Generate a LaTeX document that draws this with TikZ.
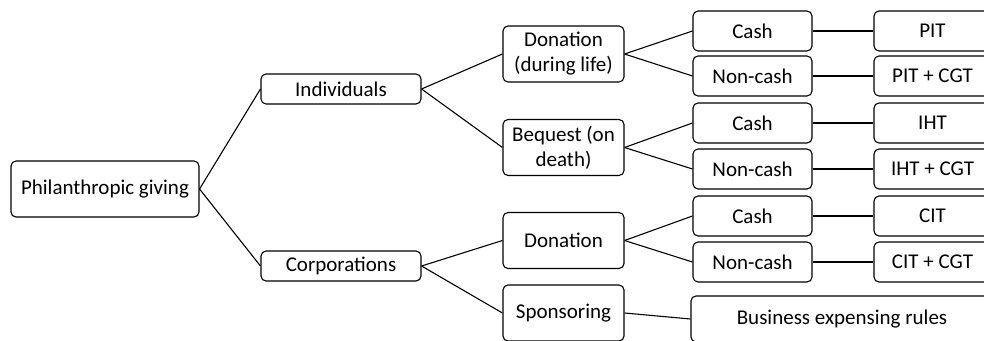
\documentclass[tikz,border=0pt]{standalone}
\usepackage{fontspec}
\setmainfont{Carlito}
\begin{document}
\begin{tikzpicture}[x=1pt,y=-1pt,
  box/.style={draw=black, line width=1.1pt, rounded corners=5pt, inner sep=0pt, align=center,
    font=\fontsize{21}{25}\selectfont, text=black},
  link/.style={draw=black, line width=1.1pt}]
\useasboundingbox (0,0) rectangle (984,340);
\clip (0,0) rectangle (984,340);
% level 0
\node[box, minimum width=188pt, minimum height=56pt] (phil) at (105,189) {Philanthropic giving};
% level 1
\node[box, minimum width=160pt, minimum height=30pt] (ind) at (341,89) {Individuals};
\node[box, minimum width=160pt, minimum height=30pt] (corp) at (341,266) {Corporations};
% level 2
\node[box, minimum width=121pt, minimum height=56pt] (don1) at (563.5,54) {Donation\\(during life)};
\node[box, minimum width=121pt, minimum height=56pt] (beq) at (563.5,147.5) {Bequest (on\\death)};
\node[box, minimum width=121pt, minimum height=56pt] (don2) at (563.5,240.5) {Donation};
\node[box, minimum width=121pt, minimum height=56pt] (spon) at (563.5,313) {Sponsoring};
% level 3
\node[box, minimum width=119pt, minimum height=40pt] (c1) at (752.5,31) {Cash};
\node[box, minimum width=119pt, minimum height=40pt] (n1) at (752.5,76) {Non-cash};
\node[box, minimum width=119pt, minimum height=40pt] (c2) at (752.5,123) {Cash};
\node[box, minimum width=119pt, minimum height=40pt] (n2) at (752.5,169) {Non-cash};
\node[box, minimum width=119pt, minimum height=40pt] (c3) at (752.5,216) {Cash};
\node[box, minimum width=119pt, minimum height=40pt] (n3) at (752.5,262) {Non-cash};
% level 4
\node[box, minimum width=117pt, minimum height=40pt] (t1) at (932.5,31) {PIT};
\node[box, minimum width=117pt, minimum height=40pt] (t2) at (932.5,76) {PIT + CGT};
\node[box, minimum width=117pt, minimum height=40pt] (t3) at (932.5,123) {IHT};
\node[box, minimum width=117pt, minimum height=40pt] (t4) at (932.5,169) {IHT + CGT};
\node[box, minimum width=117pt, minimum height=40pt] (t5) at (932.5,216) {CIT};
\node[box, minimum width=117pt, minimum height=40pt] (t6) at (932.5,262) {CIT + CGT};
\node[box, minimum width=302pt, minimum height=46pt] (ber) at (842,319) {Business expensing rules};
% connectors
\draw[link] (phil.east) -- (ind.west);
\draw[link] (phil.east) -- (corp.west);
\draw[link] (ind.east) -- (don1.west);
\draw[link] (ind.east) -- (beq.west);
\draw[link] (corp.east) -- (don2.west);
\draw[link] (corp.east) -- (spon.west);
\draw[link] (don1.east) -- (c1.west);
\draw[link] (don1.east) -- (n1.west);
\draw[link] (beq.east) -- (c2.west);
\draw[link] (beq.east) -- (n2.west);
\draw[link] (don2.east) -- (c3.west);
\draw[link] (don2.east) -- (n3.west);
\draw[link] (c1.east) -- (t1.west);
\draw[link] (n1.east) -- (t2.west);
\draw[link] (c2.east) -- (t3.west);
\draw[link] (n2.east) -- (t4.west);
\draw[link] (c3.east) -- (t5.west);
\draw[link] (n3.east) -- (t6.west);
\draw[link] (spon.east) -- (ber.west);
\end{tikzpicture}
\end{document}
